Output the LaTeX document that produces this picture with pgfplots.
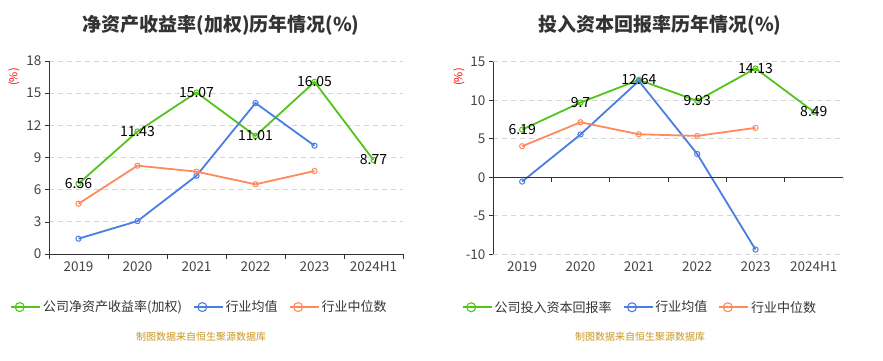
\documentclass[border=0pt]{standalone}
\usepackage{pgfplots}
\pgfplotsset{compat=1.18}
\usepackage{fontspec}
\setmainfont{Noto Sans CJK SC}
\definecolor{cgreen}{HTML}{52C41A}
\definecolor{cblue}{HTML}{4A7EE0}
\definecolor{corange}{HTML}{FF8A5C}
\definecolor{src}{HTML}{C8961E}
\definecolor{axgray}{HTML}{333333}
\definecolor{tickgray}{HTML}{444444}
\definecolor{gridgray}{HTML}{D5D5D5}
\pgfplotsset{
  base/.style={
    scale only axis,
    xmin=-0.5, xmax=5.5,
    xtick={0,1,2,3,4,5},
    xticklabels={2019,2020,2021,2022,2023,2024H1},
    tick align=outside,
    major tick length=4pt,
    minor tick length=5pt,
    major x tick style={draw=none},
    y tick style={draw=axgray, line width=0.6pt},
    minor x tick style={draw=axgray, line width=0.6pt},
    axis y line*=left,
    axis x line*=bottom,
    axis line style={-, draw=axgray, line width=0.7pt},
    ymajorgrids,
    major grid style={dash pattern=on 5pt off 4pt, draw=gridgray, line width=0.7pt},
    tick label style={font=\fontsize{13.5}{15}\selectfont, text=tickgray},
    /pgf/number format/assume math mode=true,
    legend columns=3,
    legend cell align=left,
    legend style={draw=none, fill=none, font=\fontsize{13}{15}\selectfont, text=axgray,
      /tikz/every even column/.append style={column sep=9pt}},
    legend image code/.code={
      \draw[#1, line width=1.3pt, mark=none] (0pt,0pt) -- (17pt,0pt);
      \draw[#1, line width=1.1pt, fill=white] (8.5pt,0pt) circle (4.5pt);
      \path (0pt,0pt) -- (29pt,0pt);
    },
  },
  ser/.style={line width=1.8pt, mark=o, mark size=2.6pt,
    mark options={fill=white, line width=1pt}},
  lbl/.style={draw=none, mark=none, forget plot, nodes near coords, point meta=explicit symbolic,
    nodes near coords align=center,
    every node near coord/.append style={font=\fontsize{14}{16}\selectfont, text=black}},
}
\begin{document}
\begin{tikzpicture}
\path (0pt,0pt) rectangle (883pt,360pt);
% titles
\node[font=\bfseries\fontsize{19}{21}\selectfont, text=axgray] at (221pt,335pt) {净资产收益率(加权)历年情况(\%)};
\node[font=\bfseries\fontsize{19}{21}\selectfont, text=axgray] at (660pt,335pt) {投入资本回报率历年情况(\%)};
% unit labels
\node[rotate=90, text=red, font=\fontsize{11}{13}\selectfont] at (14pt,283pt) {(\%)};
\node[rotate=90, text=red, font=\fontsize{11}{13}\selectfont] at (459pt,283pt) {(\%)};
% source
\node[text=src, font=\fontsize{10}{12}\selectfont] at (201pt,23pt) {制图数据来自恒生聚源数据库};
\node[text=src, font=\fontsize{10}{12}\selectfont] at (640pt,23pt) {制图数据来自恒生聚源数据库};

\begin{axis}[base, at={(49pt,106pt)}, anchor=south west,
  width=354pt, height=193pt,
  ymin=0, ymax=18, ytick={0,3,6,9,12,15,18},
  minor xtick={-0.5,0.5,1.5,2.5,3.5,4.5,5.5},
  legend style={at={(0.425,-0.275)}, anchor=center}]
\addplot[ser, cgreen] coordinates {(0,6.56) (1,11.43) (2,15.07) (3,11.01) (4,16.05) (5,8.77)};
\addlegendentry{公司净资产收益率(加权)}
\addplot[ser, cblue] coordinates {(0,1.43) (1,3.07) (2,7.3) (3,14.08) (4,10.1)};
\addlegendentry{行业均值}
\addplot[ser, corange] coordinates {(0,4.69) (1,8.24) (2,7.68) (3,6.5) (4,7.74)};
\addlegendentry{行业中位数}
\addplot[lbl] coordinates {(0,6.56)[6.56] (1,11.43)[11.43] (2,15.07)[15.07] (3,11.01)[11.01] (4,16.05)[16.05] (5,8.77)[8.77]};
\end{axis}

\begin{axis}[base, at={(493pt,105.7pt)}, anchor=south west,
  width=350pt, height=192.6pt,
  ymin=-10, ymax=15, ytick={-10,-5,0,5,10,15},
  x axis line style={draw=none},
  legend style={at={(0.42,-0.275)}, anchor=center}]
\addplot[ser, cgreen] coordinates {(0,6.19) (1,9.7) (2,12.64) (3,9.93) (4,14.13) (5,8.49)};
\addlegendentry{公司投入资本回报率}
\addplot[ser, cblue] coordinates {(0,-0.56) (1,5.55) (2,12.5) (3,3.03) (4,-9.39)};
\addlegendentry{行业均值}
\addplot[ser, corange] coordinates {(0,4.03) (1,7.14) (2,5.58) (3,5.37) (4,6.41)};
\addlegendentry{行业中位数}
\addplot[lbl] coordinates {(0,6.19)[6.19] (1,9.7)[9.7] (2,12.64)[12.64] (3,9.93)[9.93] (4,14.13)[14.13] (5,8.49)[8.49]};
\draw[axgray, line width=0.7pt] (axis cs:-0.5,0) -- (axis cs:5.5,0);
\pgfplotsinvokeforeach{-0.5,0.5,1.5,2.5,3.5,4.5,5.5}{
  \draw[axgray, line width=0.6pt] (axis cs:#1,0) -- ++(0pt,-5pt);
}
\end{axis}
\end{tikzpicture}
\end{document}
